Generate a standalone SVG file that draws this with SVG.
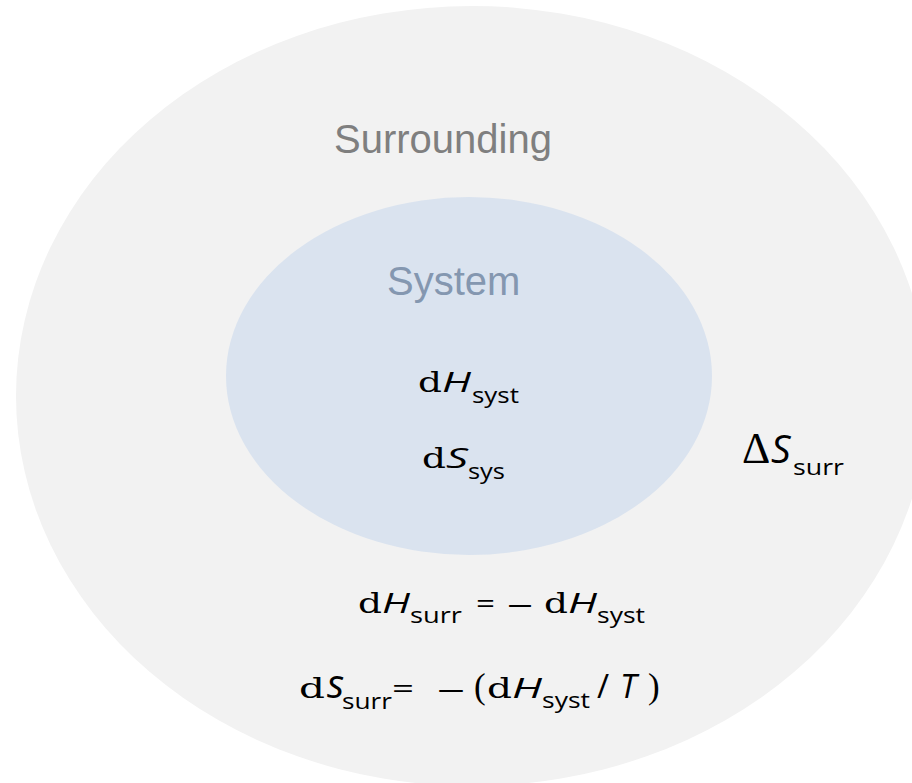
<svg xmlns="http://www.w3.org/2000/svg" width="912" height="783" viewBox="0 0 912 783">
<style>
.lbl{font-family:"Liberation Sans",Arial,sans-serif;font-size:40px}
.m{font-family:"Open Sans","Noto Sans",sans-serif;fill:#000;font-size:28px}
.d{font-family:"DejaVu Serif","Liberation Serif",serif;font-style:normal}
.p{font-family:"Liberation Serif",serif;font-style:normal}
.i{font-style:italic}
.sub{font-size:22px;font-style:normal}
</style>
<rect width="912" height="783" fill="#ffffff"/>
<g id="surrounding">
<ellipse cx="472" cy="396" rx="456" ry="390" fill="#f2f2f2"/>
<text class="lbl" x="334" y="153" fill="#7f7f7f">Surrounding</text>
</g>
<g id="system">
<ellipse cx="469" cy="376" rx="243" ry="179" fill="#dae3ef"/>
<text class="lbl" x="387" y="295" fill="#8497b0" font-size="41">System</text>
</g>
<g id="dH-syst">
<text class="m"><tspan class="d" x="418" y="392" textLength="24" lengthAdjust="spacingAndGlyphs">d</tspan><tspan class="i" x="442" y="392" textLength="29" lengthAdjust="spacingAndGlyphs">H</tspan><tspan class="sub" x="472" y="403" textLength="47" lengthAdjust="spacingAndGlyphs">syst</tspan></text>
</g>
<g id="dS-sys">
<text class="m"><tspan class="d" x="422" y="468" textLength="24" lengthAdjust="spacingAndGlyphs">d</tspan><tspan class="i" x="446" y="468" textLength="22" lengthAdjust="spacingAndGlyphs">S</tspan><tspan class="sub" x="468" y="479" textLength="37" lengthAdjust="spacingAndGlyphs">sys</tspan></text>
</g>
<g id="dS-surr-total">
<text class="m"><tspan class="p" x="742" y="463" font-size="44">Δ</tspan><tspan class="i" x="771" y="463" font-size="39">S</tspan><tspan class="sub" x="793" y="475" textLength="51" lengthAdjust="spacingAndGlyphs">surr</tspan></text>
</g>
<g id="dH-surr">
<text class="m"><tspan class="d" x="358" y="613" textLength="24" lengthAdjust="spacingAndGlyphs">d</tspan><tspan class="i" x="382" y="613" textLength="28" lengthAdjust="spacingAndGlyphs">H</tspan><tspan class="sub" x="410" y="623" textLength="52" lengthAdjust="spacingAndGlyphs">surr</tspan><tspan x="476" y="613" textLength="19" lengthAdjust="spacingAndGlyphs">=</tspan><tspan x="507" y="613" textLength="26" lengthAdjust="spacingAndGlyphs">–</tspan><tspan class="d" x="544" y="613" textLength="24" lengthAdjust="spacingAndGlyphs">d</tspan><tspan class="i" x="568" y="613" textLength="29" lengthAdjust="spacingAndGlyphs">H</tspan><tspan class="sub" x="597" y="623" textLength="48" lengthAdjust="spacingAndGlyphs">syst</tspan></text>
</g>
<g id="ds-surr">
<text class="m" font-size="30"><tspan class="d" x="299" y="698" textLength="26" lengthAdjust="spacingAndGlyphs">d</tspan><tspan class="i" x="327" y="698" font-size="40">s</tspan><tspan class="sub" x="342" y="709" textLength="50" lengthAdjust="spacingAndGlyphs">surr</tspan><tspan x="392" y="698" textLength="22" lengthAdjust="spacingAndGlyphs">=</tspan><tspan x="437" y="698" textLength="28" lengthAdjust="spacingAndGlyphs">–</tspan><tspan class="p" x="474" y="698" font-size="35">(</tspan><tspan class="d" x="487" y="698" textLength="25" lengthAdjust="spacingAndGlyphs">d</tspan><tspan class="i" x="512" y="698" textLength="30" lengthAdjust="spacingAndGlyphs">H</tspan><tspan class="sub" x="542" y="708" textLength="48" lengthAdjust="spacingAndGlyphs">syst</tspan><tspan x="597" y="698" font-size="33">/</tspan><tspan class="i" x="620" y="698" font-size="33">T</tspan><tspan class="p" x="648" y="698" font-size="35">)</tspan></text>
</g>
</svg>
